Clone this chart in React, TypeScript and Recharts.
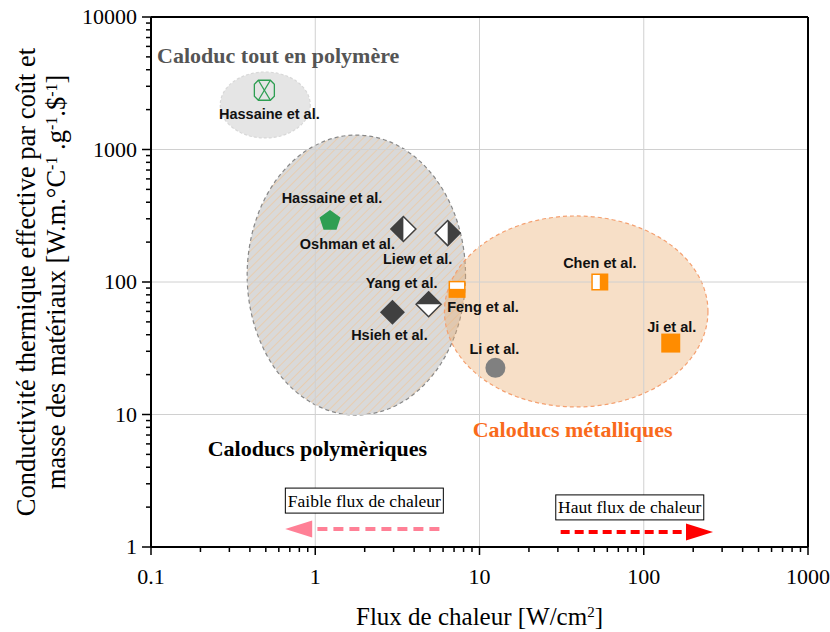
import React from "react";
import {
  ScatterChart,
  Scatter,
  XAxis,
  YAxis,
  ReferenceArea,
  ReferenceLine,
  ReferenceDot,
} from "recharts";

// Études comparées (flux en W/cm², conductivité effective par coût et masse)
const studies = [
  "Hassaine et al.",
  "Hassaine et al.",
  "Oshman et al.",
  "Liew et al.",
  "Yang et al.",
  "Hsieh et al.",
  "Feng et al.",
  "Chen et al.",
  "Ji et al.",
  "Li et al.",
];
const heatFlux = [0.49, 1.23, 3.44, 6.4, 4.9, 2.95, 7.3, 54, 146, 12.5];
const conductivity = [2800, 294, 251, 234, 68, 59, 88, 100, 34.6, 22.5];
const markers = [
  "crossHex",
  "pentagon",
  "diamondLeftDark",
  "diamondRightDark",
  "diamondTopDark",
  "diamondDark",
  "squareTopWhite",
  "squareLeftWhite",
  "square",
  "circle",
];

// zones (ellipses) : bornes en unités des axes
const zoneX = [
  [0.264, 0.932],
  [0.385, 8.22],
  [6.12, 246],
];
const zoneY = [
  [1222, 3846],
  [9.9, 1285],
  [11.4, 315],
];

// axes log
const xDecades = [0.1, 1, 10, 100, 1000];
const yDecades = [1, 10, 100, 1000, 10000];
const minorSteps = [2, 3, 4, 5, 6, 7, 8, 9];
const minorOf = (dec: number[]) =>
  dec.slice(0, -1).flatMap((d) => minorSteps.map((m) => +(d * m).toPrecision(3)));
const xTicks = [...xDecades, ...minorOf(xDecades)];
const yTicks = [...yDecades, ...minorOf(yDecades)];

const points = studies.map((name, i) => ({
  name,
  x: heatFlux[i],
  y: conductivity[i],
  kind: markers[i],
}));

// décalage des étiquettes par rapport au symbole (px)
const labelOffset = [
  [5, 24],
  [2, -22],
  [-56, 15],
  [-30, 26],
  [-27, -21],
  [-3, 23],
  [26, 18],
  [0, -19],
  [1, -16],
  [-1, -19],
];

const SERIF = "'Liberation Serif', 'Times New Roman', serif";
const SANS = "'Liberation Sans', Arial, sans-serif";
const DARK = "#404040";
const ORANGE = "#ff8c00";
const GREEN = "#2e9e52";

const zoneStyle = [
  { fill: "#e5e5e5", stroke: "#d8d8d8", dash: "3 2", opacity: 1 },
  { fill: "url(#hatch)", stroke: "#888888", dash: "4 3", opacity: 1 },
  { fill: "#eab074", stroke: "#f4a070", dash: "4 3", opacity: 0.4 },
];

const XTick = ({ x, y, payload }: any) => {
  const major = xDecades.includes(payload.value);
  return (
    <g>
      <line x1={x} x2={x} y1={y} y2={y + (major ? 8 : 5)} stroke="#000" strokeWidth={1.5} />
      {major && (
        <text x={x} y={y + 37} textAnchor="middle" fontFamily={SERIF} fontSize={22} fill="#000">
          {payload.value}
        </text>
      )}
    </g>
  );
};

const YTick = ({ x, y, payload }: any) => {
  const major = yDecades.includes(payload.value);
  return (
    <g>
      <line x1={x} x2={x - (major ? 9 : 5)} y1={y} y2={y} stroke="#000" strokeWidth={1.5} />
      {major && (
        <text x={x - 14} y={y + 7} textAnchor="end" fontFamily={SERIF} fontSize={22} fill="#000">
          {payload.value}
        </text>
      )}
    </g>
  );
};

const YLabel = ({ viewBox }: any) => {
  const cy = viewBox.y + viewBox.height / 2;
  const sup = { baselineShift: "super", fontSize: 16 } as any;
  return (
    <g fontFamily={SERIF} fontSize={26.5} fill="#000">
      <text transform={`translate(${viewBox.x + 35},${cy}) rotate(-90)`} textAnchor="middle">
        Conductivité thermique effective par coût et
      </text>
      <text transform={`translate(${viewBox.x + 65},${cy}) rotate(-90)`} textAnchor="middle">
        masse des matériaux [W.m.°C<tspan style={sup}>-1</tspan> .g<tspan style={sup}>-1</tspan>.$
        <tspan style={sup}>-1</tspan>]
      </text>
    </g>
  );
};

const XLabel = ({ viewBox }: any) => (
  <text
    x={viewBox.x + viewBox.width / 2}
    y={viewBox.y + 78}
    textAnchor="middle"
    fontFamily={SERIF}
    fontSize={25}
    fill="#000"
  >
    Flux de chaleur [W/cm<tspan style={{ baselineShift: "super", fontSize: 15 } as any}>2</tspan>]
  </text>
);

const Marker = (props: any) => {
  const { cx, cy, payload } = props;
  const i = studies.indexOf(payload.name) >= 0 ? points.findIndex((p) => p.x === payload.x && p.y === payload.y) : 0;
  const [dx, dy] = labelOffset[i] || [0, 0];
  const h = 12.5;
  const top = `${cx},${cy - h}`;
  const right = `${cx + h},${cy}`;
  const bottom = `${cx},${cy + h}`;
  const left = `${cx - h},${cy}`;
  let shape: React.ReactNode = null;
  switch (payload.kind) {
    case "crossHex": {
      const s = 10;
      const c = 4;
      shape = (
        <g fill="none" stroke={GREEN} strokeWidth={1.3}>
          <polygon
            points={`${cx - s + c},${cy - s} ${cx + s - c},${cy - s} ${cx + s},${cy - s + c} ${cx + s},${cy + s - c} ${cx + s - c},${cy + s} ${cx - s + c},${cy + s} ${cx - s},${cy + s - c} ${cx - s},${cy - s + c}`}
          />
          <line x1={cx - s + c} y1={cy - s} x2={cx + s - c} y2={cy + s} />
          <line x1={cx + s - c} y1={cy - s} x2={cx - s + c} y2={cy + s} />
        </g>
      );
      break;
    }
    case "pentagon": {
      const r = 11;
      const pts = [0, 1, 2, 3, 4]
        .map((k) => {
          const a = ((-90 + 72 * k) * Math.PI) / 180;
          return `${cx + r * Math.cos(a)},${cy + 1 + r * Math.sin(a)}`;
        })
        .join(" ");
      shape = <polygon points={pts} fill={GREEN} />;
      break;
    }
    case "diamondDark":
      shape = <polygon points={`${top} ${right} ${bottom} ${left}`} fill={DARK} />;
      break;
    case "diamondLeftDark":
    case "diamondRightDark":
    case "diamondTopDark": {
      const half =
        payload.kind === "diamondLeftDark"
          ? `${top} ${bottom} ${left}`
          : payload.kind === "diamondRightDark"
          ? `${top} ${right} ${bottom}`
          : `${left} ${top} ${right}`;
      shape = (
        <g>
          <polygon points={`${top} ${right} ${bottom} ${left}`} fill="#fff" stroke={DARK} strokeWidth={1.5} />
          <polygon points={half} fill={DARK} />
        </g>
      );
      break;
    }
    case "squareTopWhite":
      shape = (
        <g>
          <rect x={cx - 8.5} y={cy - 8.5} width={17} height={17} fill={ORANGE} />
          <rect x={cx - 7} y={cy - 7} width={14} height={6.5} fill="#fff" />
        </g>
      );
      break;
    case "squareLeftWhite":
      shape = (
        <g>
          <rect x={cx - 8.5} y={cy - 8.5} width={17} height={17} fill={ORANGE} />
          <rect x={cx - 7} y={cy - 7} width={7} height={14} fill="#fff" />
        </g>
      );
      break;
    case "square":
      shape = <rect x={cx - 9.5} y={cy - 9.5} width={19} height={19} fill={ORANGE} />;
      break;
    default:
      shape = <circle cx={cx} cy={cy} r={10} fill="#808080" />;
  }
  return (
    <g>
      {shape}
      <text
        x={cx + dx}
        y={cy + dy}
        textAnchor="middle"
        dominantBaseline="central"
        fontFamily={SANS}
        fontWeight="bold"
        fontSize={14.5}
        fill="#111"
      >
        {payload.name}
      </text>
    </g>
  );
};

const Zone = (i: number) => (p: any) => {
  const st = zoneStyle[i];
  return (
    <ellipse
      cx={p.x + p.width / 2}
      cy={p.y + p.height / 2}
      rx={Math.abs(p.width) / 2}
      ry={Math.abs(p.height) / 2}
      fill={st.fill}
      fillOpacity={st.opacity}
      stroke={st.stroke}
      strokeWidth={1.2}
      strokeDasharray={st.dash}
    />
  );
};

const Arrow = (color: string, dash: string) => (p: any) => {
  const { x1, y1, x2, y2 } = p;
  const dir = x2 > x1 ? 1 : -1;
  const headLen = 27;
  const baseX = x2 - dir * headLen;
  return (
    <g>
      <line x1={x1} y1={y1} x2={baseX} y2={y2} stroke={color} strokeWidth={4} strokeDasharray={dash} />
      <polygon points={`${x2},${y2} ${baseX},${y2 - 8.5} ${baseX},${y2 + 8.5}`} fill={color} />
    </g>
  );
};

const TextBox = (text: string, w: number) => (p: any) => (
  <g>
    <rect x={p.cx - w / 2} y={p.cy - 12.5} width={w} height={25} fill="#fff" stroke="#000" strokeWidth={1} />
    <text x={p.cx} y={p.cy + 6} textAnchor="middle" fontFamily={SERIF} fontSize={17.5} fill="#000">
      {text}
    </text>
  </g>
);

const Title = (text: string, color: string) => (p: any) => (
  <text
    x={p.cx}
    y={p.cy}
    textAnchor="middle"
    dominantBaseline="central"
    fontFamily={SERIF}
    fontWeight="bold"
    fontSize={22}
    fill={color}
  >
    {text}
  </text>
);

export default function App() {
  return (
    <div style={{ position: "absolute", left: 0, top: 0, background: "#fff" }}>
      <ScatterChart width={830} height={632} margin={{ top: 17, right: 22, bottom: 0, left: 0 }}>
        <defs>
          <pattern id="hatch" patternUnits="userSpaceOnUse" width={6} height={6} patternTransform="rotate(45)">
            <rect width={6} height={6} fill="#d9d9d9" />
            <line x1={0} y1={0} x2={0} y2={6} stroke="#ecc9a4" strokeWidth={1.5} />
          </pattern>
        </defs>
        <XAxis
          dataKey="x"
          type="number"
          scale="log"
          domain={[0.1, 1000]}
          ticks={xTicks}
          interval={0}
          tick={<XTick />}
          tickLine={false}
          tickSize={0}
          tickMargin={0}
          axisLine={{ stroke: "#000", strokeWidth: 2 }}
          height={85}
          allowDataOverflow
          label={<XLabel />}
        />
        <YAxis
          dataKey="y"
          type="number"
          scale="log"
          domain={[1, 10000]}
          ticks={yTicks}
          interval={0}
          tick={<YTick />}
          tickLine={false}
          tickSize={0}
          tickMargin={0}
          axisLine={{ stroke: "#000", strokeWidth: 2 }}
          width={151}
          allowDataOverflow
          label={<YLabel />}
        />
        {zoneX.map((zx, i) => (
          <ReferenceArea
            key={`zone-${i}`}
            x1={zx[0]}
            x2={zx[1]}
            y1={zoneY[i][0]}
            y2={zoneY[i][1]}
            ifOverflow="visible"
            shape={Zone(i)}
          />
        ))}
        {xDecades.slice(1, -1).map((v) => (
          <ReferenceLine key={`gx-${v}`} x={v} stroke="#d0d0d0" strokeWidth={1} />
        ))}
        {yDecades.slice(1, -1).map((v) => (
          <ReferenceLine key={`gy-${v}`} y={v} stroke="#d0d0d0" strokeWidth={1} />
        ))}
        <ReferenceLine y={10000} stroke="#000" strokeWidth={2} />
        <ReferenceLine x={1000} stroke="#000" strokeWidth={2} />
        <ReferenceDot x={0.595} y={5080} r={0} ifOverflow="visible" shape={Title("Caloduc tout en polymère", "#555555")} />
        <ReferenceDot x={1.03} y={5.5} r={0} ifOverflow="visible" shape={Title("Caloducs polymèriques", "#000")} />
        <ReferenceDot x={36.9} y={7.64} r={0} ifOverflow="visible" shape={Title("Caloducs métalliques", "#f96a1b")} />
        <ReferenceDot x={1.99} y={2.24} r={0} ifOverflow="visible" shape={TextBox("Faible flux de chaleur", 158)} />
        <ReferenceDot x={82.2} y={1.99} r={0} ifOverflow="visible" shape={TextBox("Haut flux de chaleur", 148)} />
        <ReferenceLine
          segment={[
            { x: 5.7, y: 1.37 },
            { x: 0.656, y: 1.37 },
          ]}
          ifOverflow="visible"
          shape={Arrow("#ff8096", "10 6")}
        />
        <ReferenceLine
          segment={[
            { x: 31.2, y: 1.3 },
            { x: 264, y: 1.3 },
          ]}
          ifOverflow="visible"
          shape={Arrow("#ff0000", "9 5")}
        />
        <Scatter data={points} isAnimationActive={false} shape={<Marker />} />
      </ScatterChart>
    </div>
  );
}
